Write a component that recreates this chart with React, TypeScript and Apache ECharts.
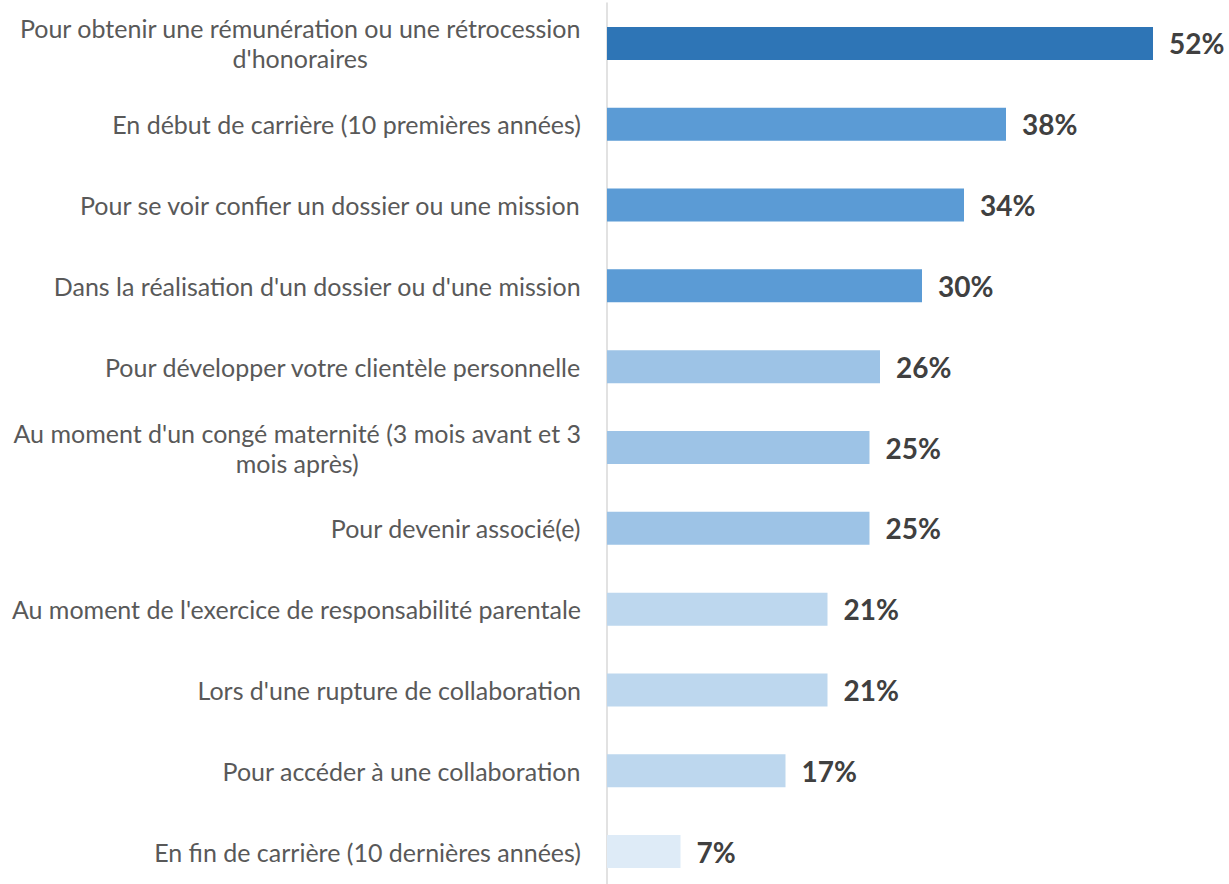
import React, { useEffect, useRef } from "react";
import * as echarts from "echarts";

const categories: string[] = [
  "Pour obtenir une rémunération ou une rétrocession\nd'honoraires",
  "En début de carrière (10 premières années)",
  "Pour se voir confier un dossier ou une mission",
  "Dans la réalisation d'un dossier ou d'une mission",
  "Pour développer votre clientèle personnelle",
  "Au moment d'un congé maternité (3 mois avant et 3\nmois après)",
  "Pour devenir associé(e)",
  "Au moment de l'exercice de responsabilité parentale",
  "Lors d'une rupture de collaboration",
  "Pour accéder à une collaboration",
  "En fin de carrière (10 dernières années)",
];
const values: number[] = [52, 38, 34, 30, 26, 25, 25, 21, 21, 17, 7];
const barColors: string[] = [
  "#2E75B6",
  "#5B9BD5",
  "#5B9BD5",
  "#5B9BD5",
  "#9DC3E6",
  "#9DC3E6",
  "#9DC3E6",
  "#BDD7EE",
  "#BDD7EE",
  "#BDD7EE",
  "#DEEBF7",
];

export default function App() {
  const ref = useRef<HTMLDivElement>(null);
  useEffect(() => {
    if (!ref.current) return;
    const chart = echarts.init(ref.current, undefined, { renderer: "svg" });
    const cats = [...categories].reverse();
    const vals = [...values].reverse();
    const cols = [...barColors].reverse();
    chart.setOption({
      animation: false,
      grid: { left: 607, right: 34, top: 3, bottom: 0, containLabel: false },
      xAxis: {
        type: "value",
        min: 0,
        max: 56,
        show: false,
        splitLine: { show: false },
      },
      yAxis: {
        type: "category",
        data: cats,
        axisLine: { show: true, lineStyle: { color: "#D9D9D9", width: 1.5 } },
        axisTick: { show: false },
        axisLabel: {
          margin: 26,
          fontFamily: "Lato",
          fontSize: 25,
          color: "#595959",
          formatter: (v: string) =>
            v
              .split("\n")
              .map((l) => `{a|${l}}`)
              .join("\n"),
          rich: {
            a: {
              align: "center",
              fontFamily: "Lato",
              fontSize: 25,
              color: "#595959",
              lineHeight: 30,
            },
          },
        },
      },
      series: [
        {
          type: "bar",
          data: vals.map((v, i) => ({ value: v, itemStyle: { color: cols[i] } })),
          barWidth: 33,
          label: {
            show: true,
            position: "right",
            distance: 16,
            formatter: "{c}%",
            fontFamily: "Lato",
            fontWeight: "bold",
            fontSize: 28,
            color: "#404040",
          },
        },
      ],
    });
    return () => chart.dispose();
  }, []);
  return (
    <div style={{ position: "fixed", left: 0, top: 0, width: 1229, height: 884, overflow: "hidden", background: "#fff" }}>
      <div ref={ref} style={{ width: 1229, height: 892 }} />
    </div>
  );
}
